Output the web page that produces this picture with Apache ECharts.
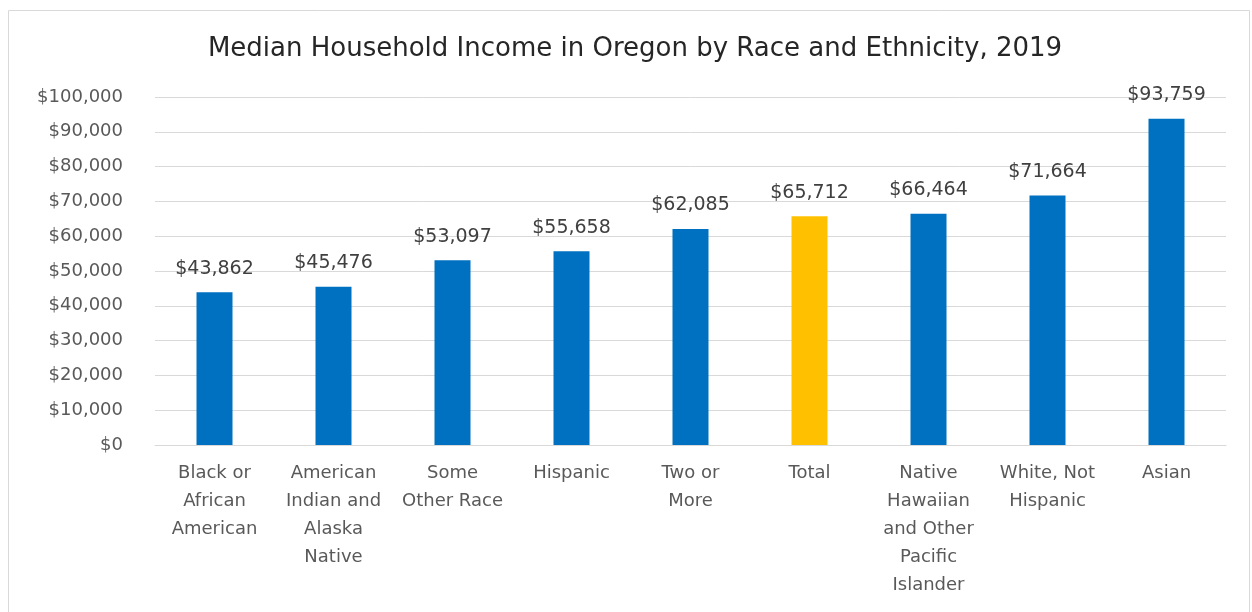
<!DOCTYPE html>
<html>
<head>
<meta charset="utf-8">
<script src="https://cdn.jsdelivr.net/npm/echarts@6/dist/echarts.min.js"></script>
<style>
html,body{margin:0;padding:0;background:#fff;}
#chart{width:1252px;height:612px;}
</style>
</head>
<body>
<div id="chart"></div>
<script>
const categories = [
  "Black or\nAfrican\nAmerican",
  "American\nIndian and\nAlaska\nNative",
  "Some\nOther Race",
  "Hispanic",
  "Two or\nMore",
  "Total",
  "Native\nHawaiian\nand Other\nPacific\nIslander",
  "White, Not\nHispanic",
  "Asian"
];
const values = [43862, 45476, 53097, 55658, 62085, 65712, 66464, 71664, 93759];
const highlightCategory = "Total";
const yTicks = [0, 10000, 20000, 30000, 40000, 50000, 60000, 70000, 80000, 90000, 100000];

const fmt = v => '$' + Math.round(v).toLocaleString('en-US');
const FONT = '"DejaVu Sans", "Open Sans", sans-serif';

const chart = echarts.init(document.getElementById('chart'), null, {renderer: 'canvas'});
chart.setOption({
  animation: false,
  backgroundColor: '#fff',
  graphic: [{
    type: 'rect', left: 6, top: 8, z: -1,
    shape: {width: 1241, height: 620},
    style: {fill: 'none', stroke: '#d9d9d9', lineWidth: 1}
  }],
  title: {
    text: 'Median Household Income in Oregon by Race and Ethnicity, 2019',
    left: 630, top: 31, textAlign: 'center',
    textStyle: {fontFamily: FONT, fontSize: 26, fontWeight: 'normal', color: '#262626'}
  },
  grid: {left: 155, right: 26, top: 97, bottom: 167, containLabel: false},
  xAxis: {
    type: 'category',
    data: categories,
    axisTick: {show: false},
    axisLine: {lineStyle: {color: '#d9d9d9', width: 1}},
    axisLabel: {interval: 0, fontFamily: FONT, fontSize: 18, color: '#595959', lineHeight: 28, margin: 14}
  },
  yAxis: {
    type: 'value',
    min: yTicks[0], max: yTicks[yTicks.length - 1], interval: 10000,
    axisLine: {show: false}, axisTick: {show: false},
    splitLine: {lineStyle: {color: '#d9d9d9', width: 1}},
    axisLabel: {formatter: v => fmt(v), fontFamily: FONT, fontSize: 18, color: '#595959', margin: 32}
  },
  series: [{
    type: 'bar',
    barWidth: 36,
    data: values.map((v, i) => ({
      value: v,
      itemStyle: {color: categories[i] === highlightCategory ? '#FFC000' : '#0070C0'}
    })),
    label: {
      show: true, position: 'top', distance: 14,
      formatter: p => fmt(p.value),
      fontFamily: FONT, fontSize: 19, color: '#404040'
    }
  }]
});
</script>
</body>
</html>
